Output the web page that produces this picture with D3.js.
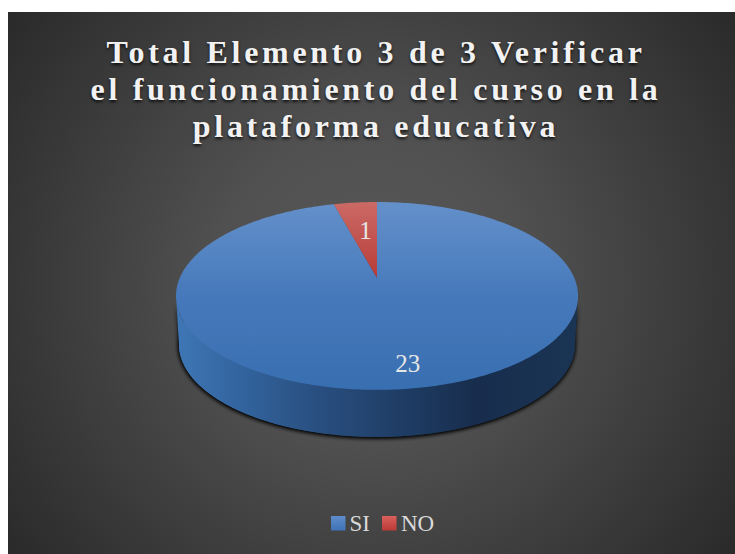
<!DOCTYPE html>
<html><head><meta charset="utf-8">
<script src="https://cdn.jsdelivr.net/npm/d3@7/dist/d3.min.js"></script>
<style>
html,body{margin:0;padding:0;background:#fff;overflow:hidden}
svg{display:block}
text{font-family:"Liberation Serif",serif}
.title{font-weight:700;font-size:32px;letter-spacing:3.7px;fill:#f2f2f2;text-shadow:0 2px 3px rgba(0,0,0,.75)}
</style></head><body>
<svg id="c" width="735" height="554"></svg>
<script>
const categories = ["SI", "NO"];
const values = [23, 1];
const titleLines = ["Total Elemento 3 de 3 Verificar", "el funcionamiento del curso en la", "plataforma educativa"];

const svg = d3.select("#c"), defs = svg.append("defs");
function linear(id, a, b, stops){
  const g = defs.append("linearGradient").attr("id", id).attr("gradientUnits","userSpaceOnUse")
    .attr("x1",a[0]).attr("y1",a[1]).attr("x2",b[0]).attr("y2",b[1]);
  stops.forEach(s => g.append("stop").attr("offset",s[0]).attr("stop-color",s[1]));
}
const bg = defs.append("radialGradient").attr("id","bg").attr("gradientUnits","userSpaceOnUse")
  .attr("cx",371).attr("cy",283).attr("r",452);
bg.append("stop").attr("offset",0).attr("stop-color","#595959");
bg.append("stop").attr("offset",.35).attr("stop-color","#505050");
bg.append("stop").attr("offset",1).attr("stop-color","#2a2a2a");
linear("gBlue",[0,202],[0,390],[[0,"#6490ca"],[.5,"#4679bb"],[1,"#386fb0"]]);
linear("gRed",[0,202],[0,390],[[0,"#cb6a66"],[.4,"#b83c38"],[1,"#b0302c"]]);
linear("gSide",[178,0],[575,0],[[0,"#3e76b5"],[.15,"#33659f"],[.35,"#294f80"],[.6,"#1d3a60"],[.75,"#182d4d"],[1,"#1a3453"]]);
linear("gLegB",[0,516],[0,530],[[0,"#5f8ccb"],[1,"#3f74b6"]]);
linear("gLegR",[0,516],[0,530],[[0,"#d9605c"],[1,"#bc3b37"]]);
const blur = defs.append("filter").attr("id","blur").attr("x","-10%").attr("y","-10%").attr("width","120%").attr("height","120%");
blur.append("feGaussianBlur").attr("stdDeviation",2.2);

svg.append("rect").attr("x",8).attr("y",12).attr("width",727).attr("height",542).attr("fill","url(#bg)");

// title
svg.append("g").selectAll("text").data(titleLines).join("text").attr("class","title")
  .attr("text-anchor","middle").attr("x",376).attr("y",(d,i)=>63+i*37).text(d=>d);

// perspective projection of a tilted circular disc
const cx = 377, apexY = 278, A = 90.5, B = 197.3, k = 0.191;
const depth = 48.7, shrink = 0.985;
function proj(ang, r, bottom){
  const u = Math.sin(ang)*r, v = -Math.cos(ang)*r, w = 1-k*v;
  const s = bottom ? shrink : 1;
  return [cx + s*B*u/w, apexY + (bottom?depth:0) + s*A*v/w];
}
const pie = d3.pie().sort(null).startAngle(0).endAngle(2*Math.PI)(values);
const line = d3.line();
function slicePts(p){
  const n = Math.max(8, Math.ceil((p.endAngle-p.startAngle)*60));
  const pts = d3.range(n+1).map(i=>proj(p.startAngle+(p.endAngle-p.startAngle)*i/n,1,false));
  return [proj(0,0,false), ...pts];
}
// side wall: front part of the rim between the silhouette tangents
const tangent = Math.acos(-k);
const fr = d3.range(0,121).map(i=>tangent+(2*Math.PI-2*tangent)*i/120);
const bottomRing = d3.range(0,241).map(i=>proj(i/240*2*Math.PI,1,true));
const wall = [...fr.map(a=>proj(a,1,false)), ...fr.slice().reverse().map(a=>proj(a,1,true))];

svg.append("path").attr("d",line(bottomRing)+"Z").attr("fill","#000").attr("opacity",.95)
  .attr("filter","url(#blur)").attr("transform","translate(-0.5,1)");
svg.append("path").attr("d",line(wall)+"Z").attr("fill","#000").attr("opacity",.9)
  .attr("filter","url(#blur)").attr("transform","translate(0,1)");
svg.append("path").attr("d",line(bottomRing)+"Z").attr("fill","url(#gSide)");
svg.append("path").attr("d",line(wall)+"Z").attr("fill","url(#gSide)");

svg.append("g").selectAll("path").data(pie).join("path")
  .attr("d",d=>line(slicePts(d))+"Z")
  .attr("fill",(d,i)=>i===0?"url(#gBlue)":"url(#gRed)");

// data labels, placed along each slice's bisector
const labelRadius = [0.81, 0.58], labelNudge = [6, 2];
const labelAt = (d,i)=>proj((d.startAngle+d.endAngle)/2, labelRadius[i], false);
svg.append("g").selectAll("text").data(pie).join("text")
  .attr("text-anchor","middle").attr("font-size",25).attr("fill","#e6e6e6")
  .attr("x",(d,i)=>labelAt(d,i)[0]+labelNudge[i]).attr("y",(d,i)=>labelAt(d,i)[1]+8)
  .text(d=>d.data);

// legend
const lx = [331,382], tx = [349.5,401];
const leg = svg.append("g").selectAll("g").data(categories).join("g");
leg.append("rect").attr("x",(d,i)=>lx[i]).attr("y",516).attr("width",14.5).attr("height",14.5)
  .attr("fill",(d,i)=>i===0?"url(#gLegB)":"url(#gLegR)");
leg.append("text").attr("x",(d,i)=>tx[i]).attr("y",531).attr("font-size",23).attr("fill","#d9d9d9").text(d=>d);
</script>
</body></html>
